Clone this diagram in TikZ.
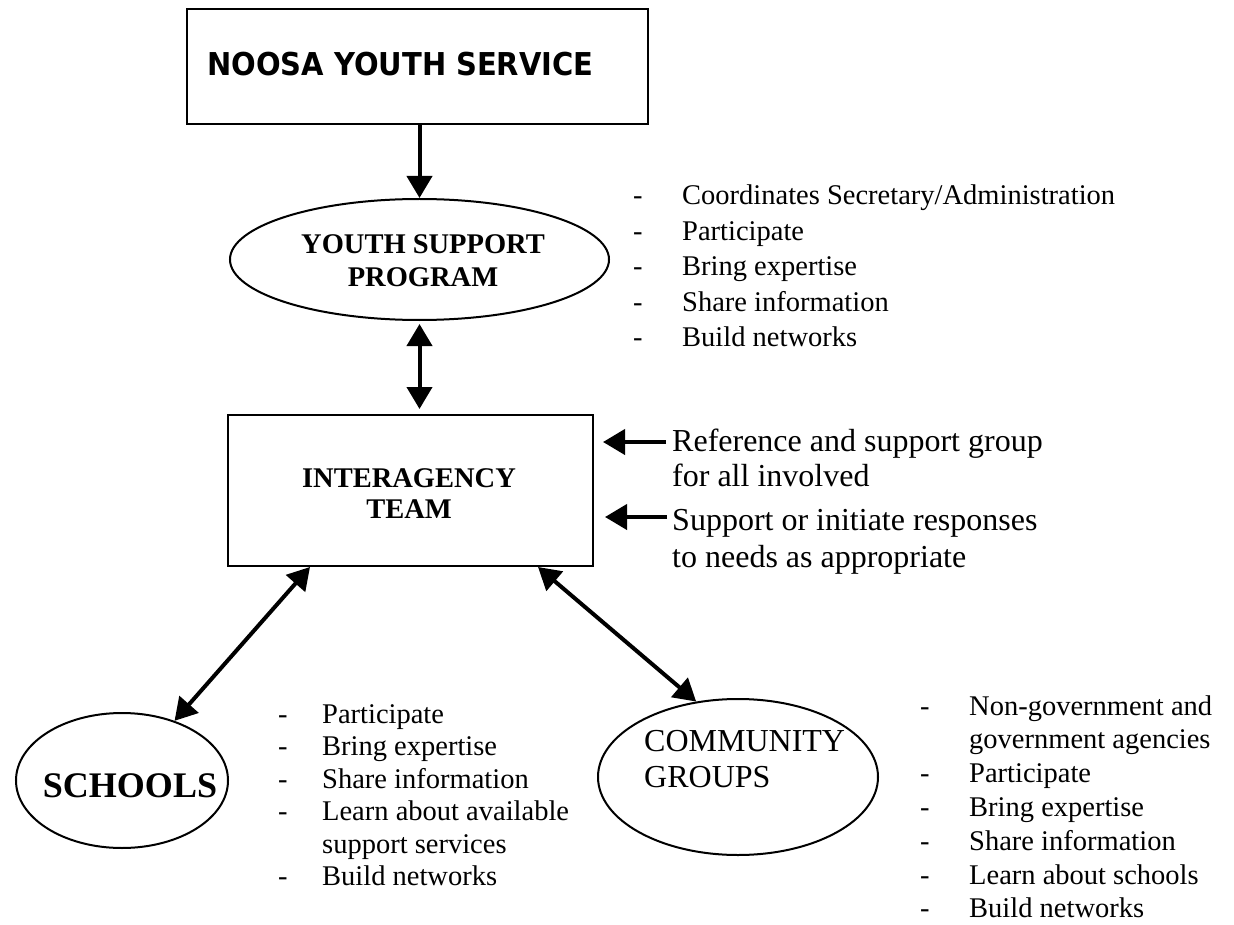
\documentclass[tikz,border=0pt]{standalone}
\usepackage{fontspec}
\setmainfont{Liberation Serif}
\newfontfamily\headfont{DejaVu Sans}
\usetikzlibrary{arrows.meta,shapes.geometric}
\begin{document}
\begin{tikzpicture}[x=1pt,y=-1pt,
  frame/.style={draw, line width=2pt, inner sep=0pt},
  txt/.style={inner sep=0pt, anchor=base west},
  ctxt/.style={inner sep=0pt, anchor=base},
  tipA/.tip={Triangle[length=22pt,width=25pt]},
  onearrow/.style={line width=4pt, -tipA},
  dblarrow/.style={line width=4pt, tipA-tipA},
  listfont/.style={font=\fontsize{28.5}{#1}\selectfont},
  bigfont/.style={font=\fontsize{32}{#1}\selectfont}]
\useasboundingbox (0,0) rectangle (1234,925);

% boxes and ellipses
\node[frame, rectangle, minimum width=461pt, minimum height=115pt] (nys) at (417.5,66.8) {};
\node[txt, font=\headfont\bfseries\fontsize{31.5}{32}\selectfont] (nystxt) at (207,76) {\scalebox{0.92}[1]{NOOSA YOUTH SERVICE}};

\node[frame, ellipse, minimum width=379pt, minimum height=121pt] (ysp) at (419.5,259.5) {};
\node[ctxt, font=\bfseries\fontsize{28.5}{33}\selectfont] (ysptxt) at (423,254)
  {\begin{tabular}[t]{@{}c@{}}YOUTH SUPPORT\\PROGRAM\end{tabular}};

\node[frame, rectangle, minimum width=365pt, minimum height=151pt] (ia) at (410.5,490.5) {};
\node[ctxt, font=\bfseries\fontsize{28.5}{31}\selectfont] (iatxt) at (409,487)
  {\begin{tabular}[t]{@{}c@{}}INTERAGENCY\\TEAM\end{tabular}};

\node[frame, ellipse, minimum width=212pt, minimum height=135pt] (sch) at (122,780.5) {};
\node[ctxt, font=\bfseries\fontsize{36}{36}\selectfont] (schtxt) at (130,797) {SCHOOLS};

\node[frame, ellipse, minimum width=280pt, minimum height=156pt] (com) at (738,777) {};
\node[txt, bigfont=36] (comtxt) at (644,751)
  {\begin{tabular}[t]{@{}l@{}}COMMUNITY\\GROUPS\end{tabular}};

% connectors
\draw[onearrow] (nys.south -| ysp.north) -- (ysp.north);
\draw[dblarrow, shorten <=3pt, shorten >=5pt] (ysp.south) -- (ysp.south |- ia.north);
\draw[dblarrow] (sch) -- ([xshift=-100.5pt]ia.south);
\draw[dblarrow] ([xshift=127.5pt]ia.south) -- (com.119);

\coordinate (r1) at (666,442);
\coordinate (r2) at (667,517);
\draw[onearrow, shorten >=9pt] (r1) -- (r1 -| ia.east);
\draw[onearrow, shorten >=11pt] (r2) -- (r2 -| ia.east);

% right texts
\node[txt, bigfont=35.5] (reftxt) at (672,451)
  {\begin{tabular}[t]{@{}l@{}}Reference and support group\\for all involved\end{tabular}};
\node[txt, bigfont=37] (suptxt) at (672,530)
  {\begin{tabular}[t]{@{}l@{}}Support or initiate responses\\to needs as appropriate\end{tabular}};

% lists
\node[txt, listfont=35.5] (ysplist) at (633,205)
  {\begin{tabular}[t]{@{}p{49pt}@{}l@{}}
  - & Coordinates Secretary/Administration\\
  - & Participate\\
  - & Bring expertise\\
  - & Share information\\
  - & Build networks
  \end{tabular}};

\node[txt, listfont=32.5] (schlist) at (278,723)
  {\begin{tabular}[t]{@{}p{44pt}@{}l@{}}
  - & Participate\\
  - & Bring expertise\\
  - & Share information\\
  - & Learn about available\\
    & support services\\
  - & Build networks
  \end{tabular}};

\node[txt, listfont=33.8] (comlist) at (920,715)
  {\begin{tabular}[t]{@{}p{49pt}@{}l@{}}
  - & Non-government and\\
    & government agencies\\
  - & Participate\\
  - & Bring expertise\\
  - & Share information\\
  - & Learn about schools\\
  - & Build networks
  \end{tabular}};
\end{tikzpicture}
\end{document}
